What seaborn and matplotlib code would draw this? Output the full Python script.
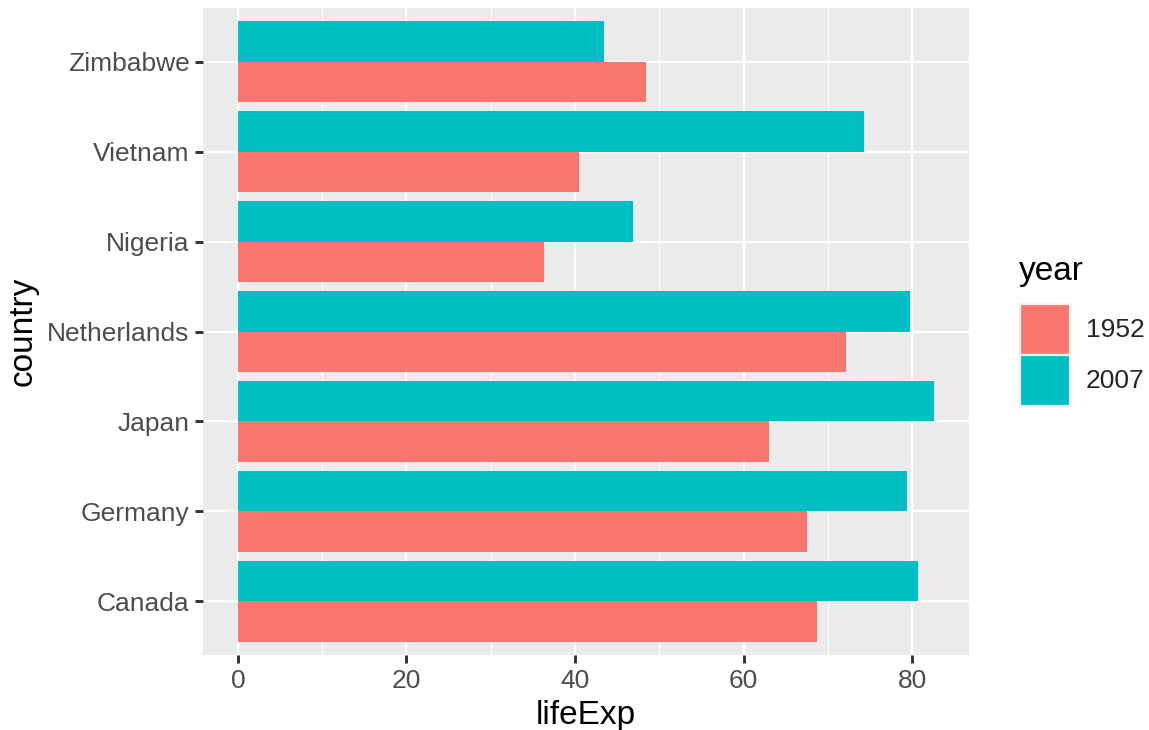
import matplotlib
matplotlib.use("Agg")
import matplotlib.pyplot as plt
from matplotlib.patches import Patch
from matplotlib.ticker import MultipleLocator
import seaborn as sns
import pandas as pd

countries = ['Canada', 'Germany', 'Japan', 'Netherlands', 'Nigeria', 'Vietnam', 'Zimbabwe']
life_1952 = [68.75, 67.5, 63.03, 72.13, 36.324, 40.412, 48.451]
life_2007 = [80.653, 79.406, 82.603, 79.762, 46.859, 74.249, 43.487]
years = ['1952', '2007']
colors = {'1952': '#F8766D', '2007': '#00BFC4'}

df = pd.DataFrame({
    'country': countries * 2,
    'lifeExp': life_1952 + life_2007,
    'year': ['1952'] * len(countries) + ['2007'] * len(countries),
})

sns.set_style("white")
plt.rcParams['font.family'] = ['Liberation Sans', 'DejaVu Sans']

W, H = 1149, 730
fig = plt.figure(figsize=(W / 100, H / 100), dpi=100)
x0, x1, y0, y1 = 203, 969, 8, 655
ax = fig.add_axes([x0 / W, 1 - y1 / H, (x1 - x0) / W, (y1 - y0) / H])

sns.barplot(data=df, x='lifeExp', y='country', hue='year',
            order=countries[::-1], hue_order=['2007', '1952'],
            palette=colors, saturation=1, width=0.9, linewidth=0,
            errorbar=None, orient='h', ax=ax, legend=False)

ax.set_xlim(-4.13, 86.73)
ax.set_ylim(6.6, -0.6)
ax.set_facecolor('#EBEBEB')
ax.set_axisbelow(True)
ax.xaxis.set_major_locator(MultipleLocator(20))
ax.xaxis.set_minor_locator(MultipleLocator(10))
ax.grid(which='major', color='white', linewidth=1.6)
ax.grid(which='minor', axis='x', color='white', linewidth=0.8)
for s in ax.spines.values():
    s.set_visible(False)
ax.tick_params(which='major', bottom=True, left=True, length=5.8, width=2.1,
               color='#333333', labelcolor='#4D4D4D', labelsize=19, pad=4)
ax.tick_params(which='minor', length=0)
ax.set_xlabel('lifeExp', fontsize=24, color='black', labelpad=5)
ax.set_ylabel('country', fontsize=24, color='black', labelpad=6)

# legend
fig.text(1019 / W, 1 - 280 / H, 'year', fontsize=24, color='black',
         ha='left', va='baseline')
handles = [Patch(facecolor=colors[y], edgecolor='#F2F2F2', linewidth=1.6) for y in years]
leg = fig.legend(handles, years, loc='upper left',
                 bbox_to_anchor=(1020 / W, 1 - 304 / H), frameon=False,
                 fontsize=19, handlelength=1.9, handleheight=2.594,
                 labelspacing=0.0, handletextpad=0.6,
                 borderaxespad=0, borderpad=0)

fig.savefig('out.png', dpi=100)
